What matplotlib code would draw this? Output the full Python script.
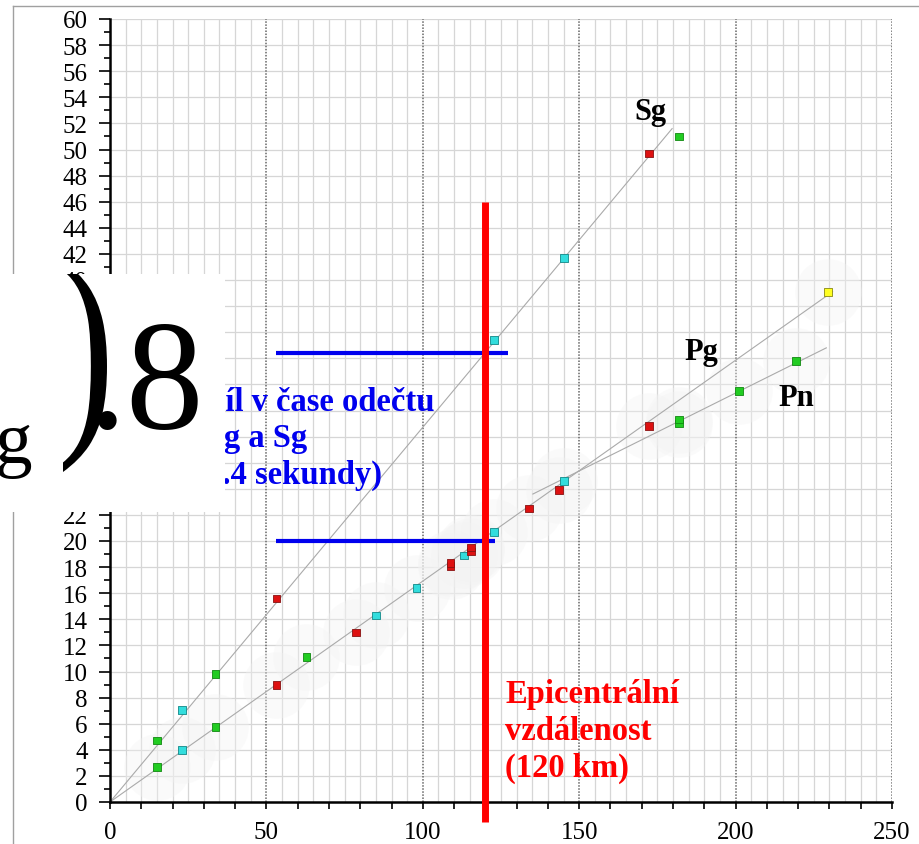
import numpy as np
import matplotlib.pyplot as plt
from matplotlib.lines import Line2D
from matplotlib.ticker import MultipleLocator
from matplotlib.textpath import TextPath
from matplotlib.patches import PathPatch
from matplotlib.font_manager import FontProperties
from matplotlib.transforms import Affine2D, IdentityTransform

plt.rcParams['font.family'] = ['Liberation Serif', 'DejaVu Serif']

# odecty Pg / Pn (spodni vetev) - vzdalenost km, cas s, barva stanice
pg_x = [15.0, 23.0, 33.7, 53.2, 62.8, 78.6, 85.0, 98.0, 108.9, 108.9, 113.2, 115.4,
        115.4, 122.8, 134.0, 143.5, 145.1, 172.3, 182.0, 182.0, 201.1, 219.3, 229.5]
pg_y = [2.7, 4.0, 5.75, 8.97, 11.1, 13.0, 14.3, 16.4, 18.1, 18.3, 18.9, 19.2,
        19.5, 20.7, 22.5, 23.9, 24.6, 28.8, 29.0, 29.3, 31.5, 33.8, 39.1]
pg_c = ['g', 'c', 'g', 'r', 'g', 'r', 'c', 'c', 'r', 'r', 'c', 'r',
        'r', 'c', 'r', 'r', 'c', 'r', 'g', 'g', 'g', 'g', 'y']

# odecty Sg
sg_x = [15.0, 23.0, 33.7, 53.2, 122.8, 145.2, 172.3, 182.0]
sg_y = [4.7, 7.05, 9.8, 15.6, 35.4, 41.7, 49.7, 51.0]
sg_c = ['g', 'c', 'g', 'r', 'c', 'c', 'r', 'g']

# prolozene primky
sg_line_x, sg_line_y = [0, 179.7], [0, 51.6]
pg_line_x, pg_line_y = [0, 231.0], [0, 39.1]
pn_line_x, pn_line_y = [135.2, 229.0], [23.6, 34.8]

epi_dist = 120      # km
t_pg = 20.0         # s
t_sg = 34.4         # s

fills = {'r': '#dd1111', 'g': '#22cc22', 'c': '#33dddd', 'y': '#ffff22'}
edges = {'r': '#881111', 'g': '#118811', 'c': '#118888', 'y': '#888811'}

W, H = 920, 845
fig = plt.figure(figsize=(W / 100, H / 100), dpi=100)
ax = fig.add_axes([110 / W, 1 - 803 / H, 782 / W, 783 / H])

ax.set_xlim(0, 250)
ax.set_ylim(0, 60)

# mrizka
for x in np.arange(5, 250, 5):
    if x % 50:
        ax.axvline(x, color='#d6d6d6', lw=0.9, zorder=0)
for y in np.arange(2, 61, 2):
    ax.axhline(y, color='#d6d6d6', lw=0.9, zorder=0)
for x in [50, 100, 150, 200, 250]:
    ax.axvline(x, color='#666666', lw=1.1, ls=(0, (1, 1)), zorder=0.5)

for s in ['top', 'right']:
    ax.spines[s].set_visible(False)
for s in ['left', 'bottom']:
    ax.spines[s].set_linewidth(1.8)

ax.xaxis.set_major_locator(MultipleLocator(50))
ax.xaxis.set_minor_locator(MultipleLocator(10))
ax.yaxis.set_major_locator(MultipleLocator(2))
ax.yaxis.set_minor_locator(MultipleLocator(1))
ax.tick_params(axis='x', which='both', length=5, width=1.2, labelsize=18, pad=9)
ax.tick_params(axis='y', which='major', length=8, width=1.2, labelsize=18, pad=8)
ax.tick_params(axis='y', which='minor', length=4, width=1.2)

# svetle stiny kolem bodu
ax.scatter(pg_x, pg_y, s=2300, color='#f3f3f3', alpha=0.35, lw=0, zorder=0.6)

ax.plot(sg_line_x, sg_line_y, color='#aaaaaa', lw=0.8, zorder=1)
ax.plot(pg_line_x, pg_line_y, color='#aaaaaa', lw=0.8, zorder=1)
ax.plot(pn_line_x, pn_line_y, color='#aaaaaa', lw=0.8, zorder=1)

ax.scatter(pg_x, pg_y, marker='s', s=30, c=[fills[c] for c in pg_c],
           edgecolors=[edges[c] for c in pg_c], linewidths=0.6, zorder=3)
ax.scatter(sg_x, sg_y, marker='s', s=30, c=[fills[c] for c in sg_c],
           edgecolors=[edges[c] for c in sg_c], linewidths=0.6, zorder=3)

ax.plot([53.2, 123.1], [t_pg, t_pg], color='#0000ee', lw=3, zorder=4, solid_capstyle='butt')
ax.plot([53.2, 127.2], [t_sg, t_sg], color='#0000ee', lw=3, zorder=4, solid_capstyle='butt')
ax.plot([epi_dist, epi_dist], [-1.5, 46.0], color='#ff0000', lw=5, zorder=5,
        solid_capstyle='butt', clip_on=False)

bold = dict(fontweight='bold', fontsize=22, va='baseline', ha='left')
ax.text(167.5, 52.3, 'Sg', color='black', **bold)
ax.text(183.8, 33.95, 'Pg', color='black', **bold)
ax.text(213.6, 30.4, 'Pn', color='black', **bold)

red = dict(fontweight='bold', fontsize=23.5, va='baseline', ha='left', color='#ff0000')
ax.text(126.3, 7.66, 'Epicentrální', **red)
ax.text(126.3, 4.83, 'vzdálenost', **red)
ax.text(126.3, 1.99, '(120 km)', **red)

blue = dict(fontweight='bold', fontsize=23.5, va='baseline', ha='right', color='#0000ee',
            clip_on=False)
ax.text(103.9, 30.04, 'Rozdíl v čase odečtu', **blue)
ax.text(63.0, 27.28, 'Pg a Sg', **blue)
ax.text(87.0, 24.5, '(14.4 sekundy)', **blue)

# okraj obrazku
fig.add_artist(Line2D([13 / W, 1], [1 - 6.5 / H] * 2, color='#a0a0a0', lw=1))
fig.add_artist(Line2D([13 / W] * 2, [0, 1 - 6.5 / H], color='#a0a0a0', lw=1))

# bily prekryv s velkym textem
box = fig.add_axes([0, 1 - 513 / H, 225 / W, (513 - 275) / H], zorder=10)
box.set_facecolor('white')
box.set_xlim(0, 225)
box.set_ylim(513, 275)
box.set_xticks([])
box.set_yticks([])
for s in box.spines.values():
    s.set_visible(False)
box.text(-5, 463, 'g', fontsize=54, va='baseline', ha='left', clip_on=True)
box.text(88, 428, '.8', fontsize=112, va='baseline', ha='left', clip_on=True)

# uzka vysoka zavorka - glyf roztazeny do ramecku (pixely od leveho dolniho rohu)
paren = TextPath((0, 0), ')', size=100, prop=FontProperties(family='Liberation Serif'))
ext = paren.get_extents()
x0, x1, y0, y1 = 63, 107, H - 473, H - 262
tr = (Affine2D().translate(-ext.x0, -ext.y0)
      .scale((x1 - x0) / ext.width, (y1 - y0) / ext.height).translate(x0, y0))
pp = PathPatch(tr.transform_path(paren), facecolor='black', lw=0,
               transform=IdentityTransform(), zorder=11)
box.add_artist(pp)
pp.set_clip_path(box.patch)

fig.savefig('out.png', dpi=100)
